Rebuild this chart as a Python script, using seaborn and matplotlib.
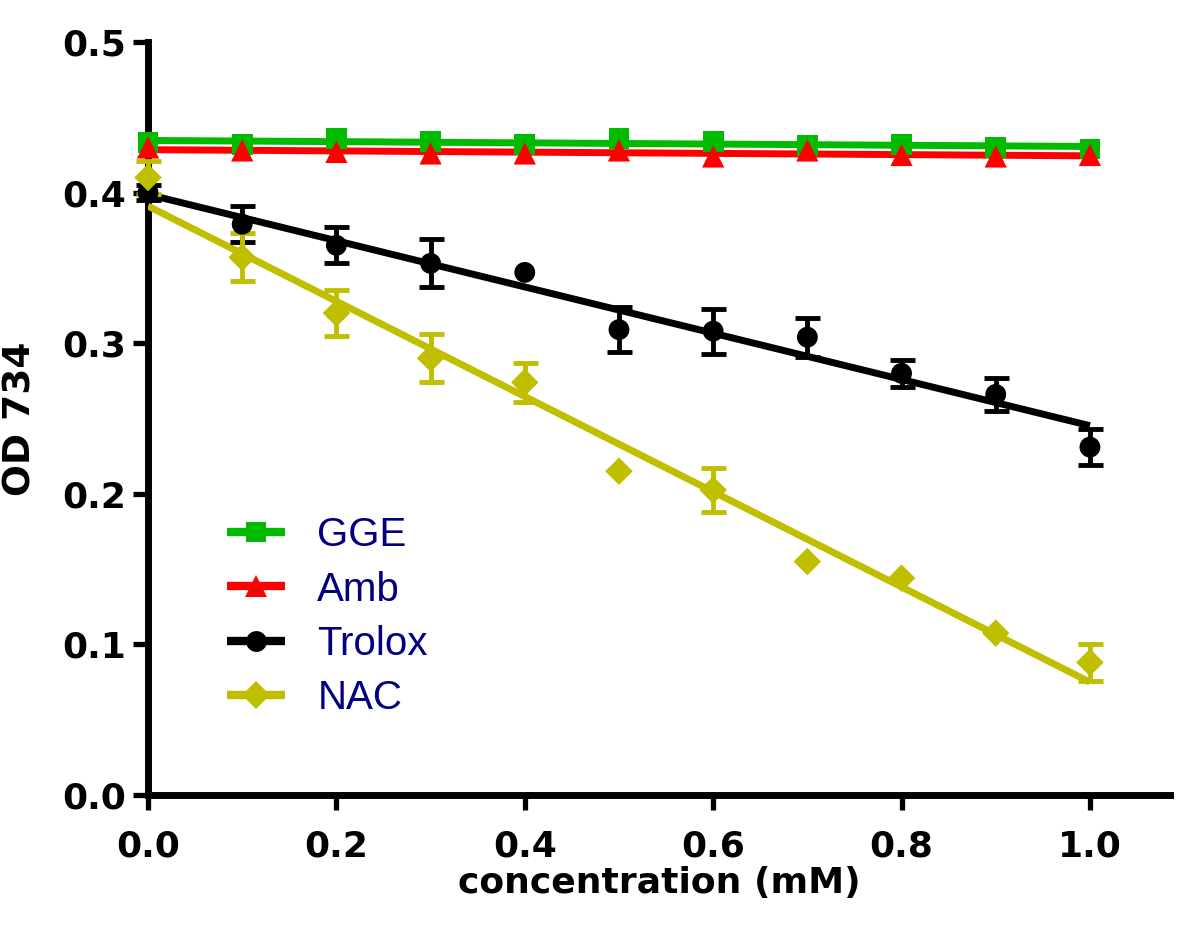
import numpy as np
import pandas as pd
import seaborn as sns
import matplotlib.pyplot as plt
from matplotlib.lines import Line2D

# concentration (mM)
conc = [0.0, 0.1, 0.2, 0.3, 0.4, 0.5, 0.6, 0.7, 0.8, 0.9, 1.0]

# OD 734 readings (means) and error bars
gge = [0.433, 0.432, 0.436, 0.434, 0.432, 0.436, 0.434, 0.431, 0.432, 0.430, 0.429]
amb = [0.430, 0.428, 0.427, 0.426, 0.426, 0.428, 0.424, 0.428, 0.425, 0.424, 0.425]
trolox = [0.400, 0.379, 0.365, 0.353, 0.347, 0.309, 0.308, 0.304, 0.280, 0.266, 0.231]
trolox_err = [0.005, 0.012, 0.012, 0.016, 0.0, 0.015, 0.015, 0.013, 0.009, 0.011, 0.012]
nac = [0.410, 0.357, 0.320, 0.290, 0.274, 0.215, 0.2025, 0.155, 0.144, 0.1075, 0.088]
nac_err = [0.011, 0.016, 0.015, 0.016, 0.013, 0.0, 0.0145, 0.0, 0.0, 0.0, 0.012]
zeros = [0.0] * len(conc)

names = ['GGE', 'Amb', 'Trolox', 'NAC']
colors = ['#00BB00', '#FF0000', '#000000', '#BFBF00']
markers = ['s', '^', 'o', 'D']
sizes = [15, 16, 15, 14]

frames = []
for name, vals, errs in zip(names, [gge, amb, trolox, nac], [zeros, zeros, trolox_err, nac_err]):
    frames.append(pd.DataFrame({'conc': conc, 'od': vals, 'err': errs, 'serie': name}))
df = pd.concat(frames).reset_index(drop=True)

sns.set_style('ticks')
plt.rcParams['font.family'] = ['DejaVu Sans']
plt.rcParams['text.color'] = 'black'
plt.rcParams['axes.labelcolor'] = 'black'
plt.rcParams['xtick.color'] = 'black'
plt.rcParams['ytick.color'] = 'black'

fig = plt.figure(figsize=(12, 9.4), dpi=100)
ax = fig.add_axes([148 / 1200, 145 / 940, 1022 / 1200, 753 / 940])

handles = []
for name, c, m, ms in zip(names, colors, markers, sizes):
    sub = df[df['serie'] == name]
    # linear fit
    sns.regplot(data=sub, x='conc', y='od', ci=None, scatter=False, color=c,
                line_kws={'lw': 5, 'solid_capstyle': 'butt', 'zorder': 3}, ax=ax)
    # error bars
    e = sub[sub['err'] > 0]
    if len(e):
        ax.errorbar(e['conc'], e['od'], yerr=e['err'], fmt='none', ecolor=c,
                    elinewidth=3.5, capsize=9, capthick=3.5, clip_on=False, zorder=4)
    sns.scatterplot(data=sub, x='conc', y='od', marker=m, s=ms ** 2, color=c,
                    edgecolor='none', linewidth=0, clip_on=False, zorder=5, ax=ax,
                    legend=False)
    handles.append(Line2D([], [], color=c, lw=6, marker=m, markersize=ms,
                          markeredgewidth=0, solid_capstyle='butt'))

ax.set_xlim(0, 1.085)
ax.set_ylim(0, 0.5)
ax.set_xticks([0.0, 0.2, 0.4, 0.6, 0.8, 1.0])
ax.set_yticks([0.0, 0.1, 0.2, 0.3, 0.4, 0.5])
ax.set_xticklabels(['0.0', '0.2', '0.4', '0.6', '0.8', '1.0'])
ax.set_yticklabels(['0.0', '0.1', '0.2', '0.3', '0.4', '0.5'])

for lab in ax.get_xticklabels() + ax.get_yticklabels():
    lab.set_fontsize(26)
    lab.set_fontweight('bold')
    lab.set_color('black')

ax.tick_params(axis='both', direction='out', length=11, width=3.8, color='black')
ax.tick_params(axis='y', pad=5)
ax.tick_params(axis='x', pad=14)
for side in ['top', 'right']:
    ax.spines[side].set_visible(False)
for side in ['left', 'bottom']:
    ax.spines[side].set_linewidth(5)
    ax.spines[side].set_color('black')
    ax.spines[side].set_zorder(2)

ax.set_xlabel('concentration (mM)', fontsize=26, fontweight='bold', labelpad=2, color='black')
ax.set_ylabel('OD 734', fontsize=27, fontweight='bold', color='black')
ax.yaxis.set_label_coords(-0.107, 0.5)

leg = ax.legend(handles, names, loc='upper left', bbox_to_anchor=(0.077, 0.37),
                frameon=False, handlelength=1.45, handletextpad=0.8,
                labelspacing=0.4, borderpad=0, borderaxespad=0,
                prop={'family': 'Liberation Sans', 'size': 29})
for t in leg.get_texts():
    t.set_color('#000080')

fig.savefig('out.png', dpi=100, facecolor='white')
